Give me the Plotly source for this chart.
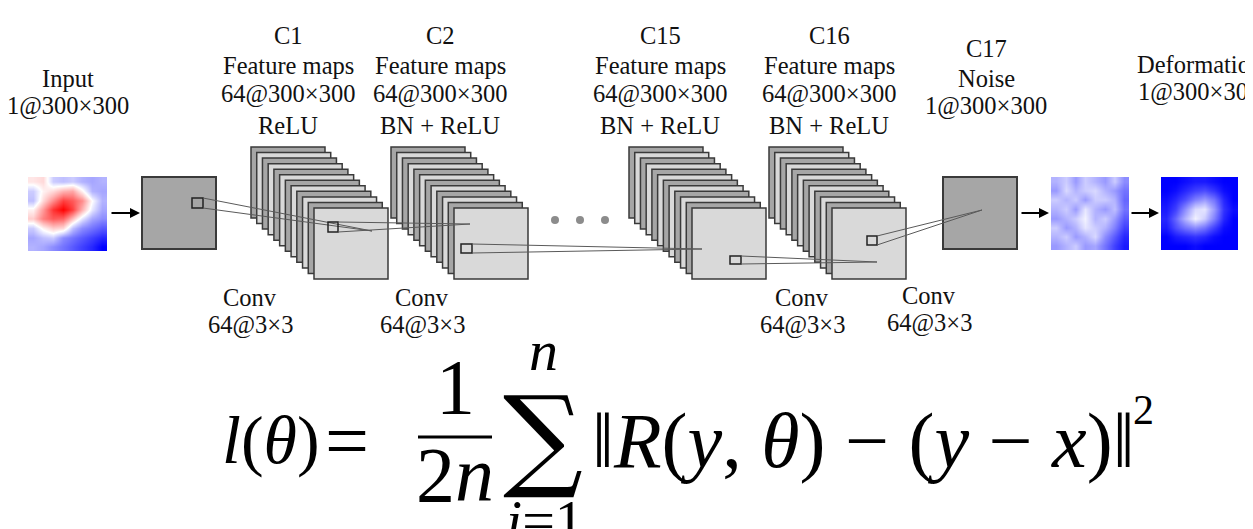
import plotly.graph_objects as go

# ---------------- data (text + image samples) ----------------
input_label = ["Input", "1@300×300"]
c1_label = ["C1", "Feature maps", "64@300×300", "ReLU"]
c2_label = ["C2", "Feature maps", "64@300×300", "BN + ReLU"]
c15_label = ["C15", "Feature maps", "64@300×300", "BN + ReLU"]
c16_label = ["C16", "Feature maps", "64@300×300", "BN + ReLU"]
c17_label = ["C17", "Noise", "1@300×300"]
deform_label = ["Deformation", "1@300×300"]
conv_label = ["Conv", "64@3×3"]
n_plates = 12

# input field (-1 blue .. +1 red), rows top->bottom
input_field = [
    [0.1, 0.15, -0.2, -0.25, -0.2, -0.3, -0.35, -0.3],
    [-0.2, 0.05, 0.15, 0.3, 0.35, 0.05, -0.3, -0.35],
    [-0.25, 0.15, 0.45, 0.75, 0.65, 0.45, 0.0, -0.3],
    [0.05, 0.4, 0.8, 1.0, 0.75, 0.3, -0.1, -0.35],
    [0.2, 0.5, 0.65, 0.6, 0.25, -0.1, -0.35, -0.45],
    [-0.2, 0.05, 0.2, 0.15, -0.25, -0.45, -0.55, -0.65],
    [-0.35, -0.25, -0.2, -0.45, -0.55, -0.65, -0.75, -0.85],
    [-0.3, -0.35, -0.45, -0.55, -0.65, -0.75, -0.85, -1.0],
]
# noise field (0 white .. 1 blue)
noise_field = [
    [0.3, 0.2, 0.4, 0.2, 0.3, 0.4, 0.2, 0.45],
    [0.4, 0.15, 0.3, 0.2, 0.15, 0.3, 0.4, 0.55],
    [0.2, 0.3, 0.2, 0.4, 0.2, 0.2, 0.3, 0.6],
    [0.3, 0.2, 0.4, 0.1, 0.3, 0.4, 0.25, 0.55],
    [0.4, 0.3, 0.2, 0.05, 0.3, 0.2, 0.4, 0.65],
    [0.2, 0.4, 0.3, 0.1, 0.2, 0.3, 0.5, 0.75],
    [0.3, 0.2, 0.4, 0.3, 0.15, 0.45, 0.65, 0.85],
    [0.4, 0.3, 0.2, 0.4, 0.35, 0.55, 0.75, 0.9],
]
# deformation field (0 white .. 1 blue)
deform_field = [
    [1.0, 1.0, 0.95, 0.9, 0.9, 0.95, 1.0, 1.0],
    [1.0, 0.95, 0.85, 0.75, 0.7, 0.8, 0.95, 1.0],
    [0.95, 0.85, 0.7, 0.5, 0.4, 0.55, 0.85, 1.0],
    [0.9, 0.75, 0.45, 0.15, 0.1, 0.4, 0.8, 0.95],
    [0.85, 0.6, 0.3, 0.05, 0.2, 0.5, 0.85, 1.0],
    [0.9, 0.7, 0.55, 0.45, 0.55, 0.75, 0.95, 1.0],
    [1.0, 0.9, 0.85, 0.8, 0.85, 0.95, 1.0, 1.0],
    [1.0, 1.0, 1.0, 0.95, 1.0, 1.0, 1.0, 1.0],
]

# ---------------- layout geometry (pixels) ----------------
W, H = 1253, 529
OFF = 8  # page body margin of the written html
TXT = dict(family="Liberation Serif", size=24.5, color="#111111")
MATH = dict(family="Liberation Serif", size=78, color="#000000")
EDGE = "#3a3a3a"
DARK = "#a6a6a6"
LIGHT = "#d9d9d9"
LINE = "#5a5a5a"

fig = go.Figure()


def add_image(field, x0, x1, y0, y1, cs, zmin, zmax):
    ny, nx = len(field), len(field[0])
    dx = (x1 - x0) / nx
    dy = (y1 - y0) / ny
    fig.add_trace(go.Heatmap(z=field, x0=x0 + dx / 2, dx=dx, y0=y0 + dy / 2, dy=dy,
                             colorscale=cs, zmin=zmin, zmax=zmax, zsmooth="best",
                             showscale=False, hoverinfo="skip"))


add_image(input_field, 28, 107, 177, 251,
          [[0, "#0000ff"], [0.5, "#ffffff"], [1, "#ff0000"]], -1, 1)
add_image(noise_field, 1051, 1129, 177, 250,
          [[0, "#ffffff"], [1, "#0000ff"]], 0, 1)
add_image(deform_field, 1161, 1238, 177, 250,
          [[0, "#ffffff"], [1, "#0000ff"]], 0, 1)

shapes = []


def rect(x0, y0, x1, y1, fill, line=EDGE, w=1.5):
    shapes.append(dict(type="rect", xref="x", yref="y", x0=x0, y0=y0, x1=x1, y1=y1,
                       fillcolor=fill, line=dict(color=line, width=w), layer="above"))


def seg(x0, y0, x1, y1, color=LINE, w=1):
    shapes.append(dict(type="line", xref="x", yref="y", x0=x0, y0=y0, x1=x1, y1=y1,
                       line=dict(color=color, width=w), layer="above"))


# single gray boxes
rect(142, 177, 216, 249, DARK, w=2)
rect(943, 177, 1017, 249, DARK, w=2)

# stacks of feature maps
stack_left = [251, 391, 629, 769]
top = 147
pw, ph = 74, 71
sx, sy = 63 / (n_plates - 1), 61 / (n_plates - 1)
for xl in stack_left:
    for k in range(n_plates):
        x0 = xl + k * sx
        y0 = top + k * sy
        rect(x0, y0, x0 + pw, y0 + ph, DARK if k % 2 == 0 else LIGHT)

# kernel squares and their projection lines
kernels = [  # (x0, y0, x1, y1, target_x, target_y)
    (192, 198, 203, 208, 372, 231),
    (328, 222, 338, 232, 470, 224),
    (461, 244, 472, 253, 702, 249),
    (730, 256, 741, 264, 877, 262),
    (867, 236, 877, 245, 982, 210),
]
for x0, y0, x1, y1, tx, ty in kernels:
    rect(x0, y0, x1, y1, "rgba(0,0,0,0)", line="#222222", w=1.5)
    seg(x1, y0, tx, ty)
    seg(x1, y1, tx, ty)

# fraction bar
seg(418, 437, 492, 437, color="#000000", w=3)

# dots
fig.add_trace(go.Scatter(x=[555, 580, 605], y=[220, 220, 220], mode="markers",
                         marker=dict(size=8, color="#8c8c8c"), hoverinfo="skip"))

ann = []


def text(s, x, y, font=TXT, xanchor="center"):
    ann.append(dict(text=s, x=x, y=y, xref="x", yref="y", showarrow=False,
                    xanchor=xanchor, yanchor="middle", font=font))


def arrow(x0, x1, y):
    ann.append(dict(text="", x=x1, y=y, ax=x0, ay=y, xref="x", yref="y",
                    axref="x", ayref="y", showarrow=True, arrowhead=2,
                    arrowsize=1, arrowwidth=2, arrowcolor="#000000"))


arrow(110, 140, 213)
arrow(1020, 1049, 213)
arrow(1130, 1159, 213)

feat_rows = [35, 65, 94, 125]
for xc, lines in [(288, c1_label), (440, c2_label), (660, c15_label), (829, c16_label)]:
    for s, yy in zip(lines, feat_rows):
        text(s, xc, yy)
for s, yy in zip(input_label, [78, 106]):
    text(s, 68, yy)
for s, yy in zip(c17_label, [48, 78, 106]):
    text(s, 986, yy)
for s, yy in zip(deform_label, [64, 92]):
    text(s, 1199, yy)
for xc, ys in [(250, [297, 325]), (422, [297, 325]), (802, [297, 325]), (929, [295, 323])]:
    for s, yy in zip(conv_label, ys):
        text(s, xc, yy)

# loss formula
text("<i>l</i>(<i>θ</i>)", 220, 440, dict(family="Liberation Serif", size=68, color="#000000"),
     xanchor="left")
text("=", 347, 440, MATH)
text("1", 455, 386, MATH)
text("2<i>n</i>", 455, 474, MATH)
text("∑", 543, 437, dict(family="DejaVu Serif", size=112, color="#000000"))
text("<i>n</i>", 543, 350, dict(family="Liberation Serif", size=58, color="#000000"))
text("<i>i</i>=1", 545, 520, dict(family="Liberation Serif", size=58, color="#000000"))
text("‖<i>R</i>(<i>y</i>, <i>θ</i>) − (<i>y</i> − <i>x</i>)‖", 590, 440, MATH, xanchor="left")
text("2", 1143, 410, dict(family="Liberation Serif", size=42, color="#000000"))

fig.update_layout(
    width=W, height=H, margin=dict(l=0, r=0, t=0, b=0),
    paper_bgcolor="white", plot_bgcolor="white", showlegend=False,
    xaxis=dict(range=[OFF, W + OFF], visible=False, fixedrange=True),
    yaxis=dict(range=[H + OFF, OFF], visible=False, fixedrange=True),
    shapes=shapes, annotations=ann,
)
fig.write_html("out.html")
